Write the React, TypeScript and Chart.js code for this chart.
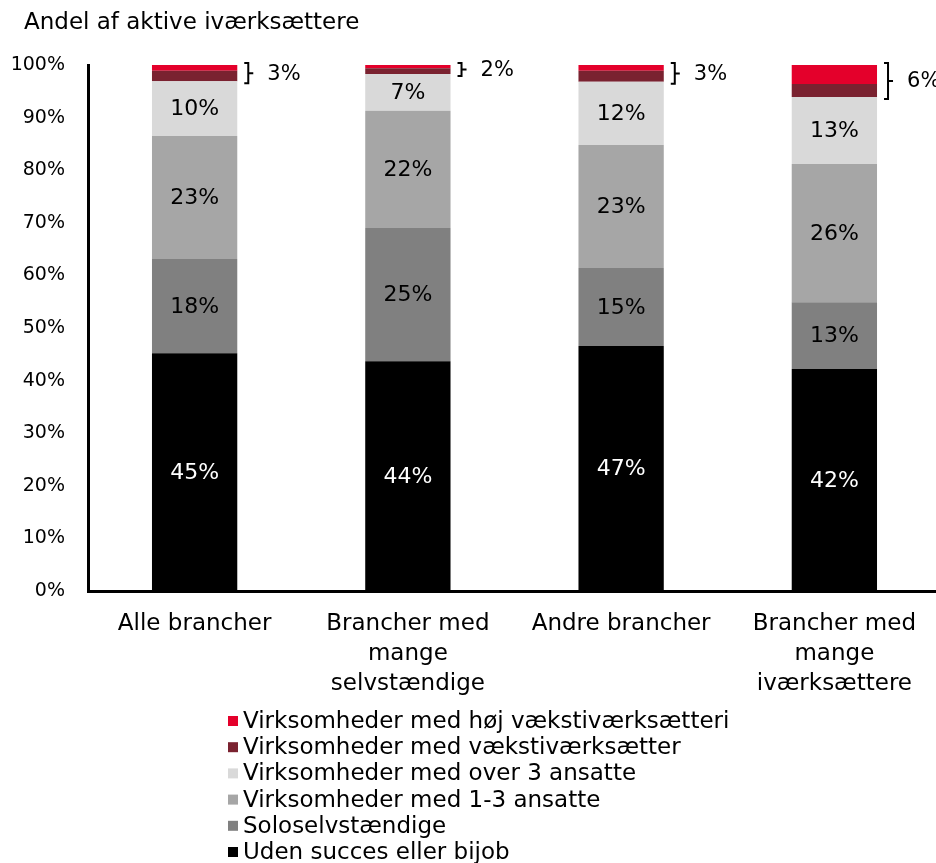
import React, { useEffect, useRef } from 'react';
import { Chart, registerables } from 'chart.js';

Chart.register(...registerables);

const titleText = 'Andel af aktive iværksættere';
const categories: string[][] = [
  ['Alle brancher'],
  ['Brancher med', 'mange', 'selvstændige'],
  ['Andre brancher'],
  ['Brancher med', 'mange', 'iværksættere'],
];
const seriesNames = [
  'Uden succes eller bijob',
  'Soloselvstændige',
  'Virksomheder med 1-3 ansatte',
  'Virksomheder med over 3 ansatte',
  'Virksomheder med vækstiværksætter',
  'Virksomheder med høj vækstiværksætteri',
];
const udenSucces = [45.2, 43.7, 46.6, 42.2];
const soloselvstaendige = [17.9, 25.3, 14.8, 12.7];
const ansatte1til3 = [23.4, 22.3, 23.4, 26.3];
const over3Ansatte = [10.4, 7.0, 12.0, 12.7];
const vaekst = [2.0, 1.1, 2.1, 2.5];
const hoejVaekst = [1.1, 0.6, 1.1, 3.6];
const yTickValues = [0, 10, 20, 30, 40, 50, 60, 70, 80, 90, 100];

const seriesColors = ['#000000', '#808080', '#A6A6A6', '#D9D9D9', '#7A2230', '#E4002B'];
const FONT = '"DejaVu Sans", sans-serif';

const overlayPlugin = {
  id: 'overlay',
  afterDatasetsDraw(chart: any) {
    const ctx = chart.ctx;
    const yScale = chart.scales.y;
    ctx.save();
    ctx.font = `22px ${FONT}`;
    ctx.textAlign = 'center';
    ctx.textBaseline = 'middle';
    for (let d = 0; d < 4; d++) {
      const meta = chart.getDatasetMeta(d);
      const vals = chart.data.datasets[d].data as number[];
      meta.data.forEach((el: any, i: number) => {
        const cy = (el.y + el.base) / 2;
        ctx.fillStyle = d === 0 ? '#FFFFFF' : '#000000';
        ctx.fillText(Math.round(vals[i]) + '%', el.x, cy + 1);
      });
    }
    ctx.font = `21px ${FONT}`;
    const meta = chart.getDatasetMeta(5);
    meta.data.forEach((el: any, i: number) => {
      const lowerSum = udenSucces[i] + soloselvstaendige[i] + ansatte1til3[i] + over3Ansatte[i];
      const total = lowerSum + vaekst[i] + hoejVaekst[i];
      const top = yScale.getPixelForValue(total) - 2;
      const bot = yScale.getPixelForValue(lowerSum) + 2;
      const mid = (top + bot) / 2;
      const right = el.x + el.width / 2;
      const x0 = right + 7;
      ctx.strokeStyle = '#000';
      ctx.lineWidth = 2;
      ctx.beginPath();
      ctx.moveTo(x0, top);
      ctx.lineTo(x0 + 4, top);
      ctx.lineTo(x0 + 4, bot);
      ctx.lineTo(x0, bot);
      ctx.moveTo(x0 + 4, mid);
      ctx.lineTo(x0 + 9, mid);
      ctx.stroke();
      ctx.fillStyle = '#000';
      ctx.textAlign = 'left';
      ctx.fillText(Math.round(vaekst[i] + hoejVaekst[i]) + '%', x0 + 23, mid + 1);
    });
    ctx.restore();
  },
  afterDraw(chart: any) {
    const ctx = chart.ctx;
    ctx.save();
    ctx.font = `23px ${FONT}`;
    ctx.fillStyle = '#000';
    ctx.textAlign = 'left';
    ctx.textBaseline = 'middle';
    ctx.fillText(titleText, 24, 23);
    const n = chart.data.datasets.length;
    for (let k = 0; k < n; k++) {
      const ds = chart.data.datasets[n - 1 - k];
      const cy = 721 + k * 26.2;
      ctx.fillStyle = ds.backgroundColor;
      ctx.fillRect(228, cy - 5, 10, 10);
      ctx.fillStyle = '#000';
      ctx.fillText(ds.label, 243, cy + 1);
    }
    ctx.restore();
  },
};

export default function App() {
  const ref = useRef<HTMLCanvasElement>(null);
  useEffect(() => {
    if (!ref.current) return;
    const seriesData = [udenSucces, soloselvstaendige, ansatte1til3, over3Ansatte, vaekst, hoejVaekst];
    const chart = new Chart(ref.current, {
      type: 'bar',
      data: {
        labels: categories,
        datasets: seriesData.map((d, i) => ({
          label: seriesNames[i],
          data: d,
          backgroundColor: seriesColors[i],
          borderWidth: 0,
          categoryPercentage: 1,
          barPercentage: 0.4,
        })),
      },
      options: {
        responsive: false,
        animation: false,
        layout: { padding: { left: 8, top: 65, right: 0, bottom: 162 } },
        plugins: {
          legend: { display: false },
          title: { display: false },
          tooltip: { enabled: false },
        },
        scales: {
          x: {
            stacked: true,
            grid: { display: false },
            border: { display: true, color: '#000', width: 3 },
            ticks: {
              color: '#000',
              font: { family: FONT, size: 23, lineHeight: '30px' },
              padding: 10,
              maxRotation: 0,
              autoSkip: false,
            },
            afterFit: (scale: any) => {
              scale.height = 110;
            },
          },
          y: {
            stacked: true,
            min: 0,
            max: 100,
            afterBuildTicks: (scale: any) => {
              scale.ticks = yTickValues.map((v) => ({ value: v }));
            },
            grid: { display: false },
            border: { display: true, color: '#000', width: 3 },
            ticks: {
              color: '#000',
              font: { family: FONT, size: 19 },
              padding: 15,
              callback: (v: any) => v + '%',
            },
            afterFit: (scale: any) => {
              scale.width = 80;
            },
          },
        },
      },
      plugins: [overlayPlugin],
    });
    return () => chart.destroy();
  }, []);
  return (
    <div style={{ position: 'absolute', left: 0, top: 0, width: 936, height: 863, overflow: 'hidden' }}>
      <canvas ref={ref} width={941} height={863} style={{ display: 'block' }} />
    </div>
  );
}
